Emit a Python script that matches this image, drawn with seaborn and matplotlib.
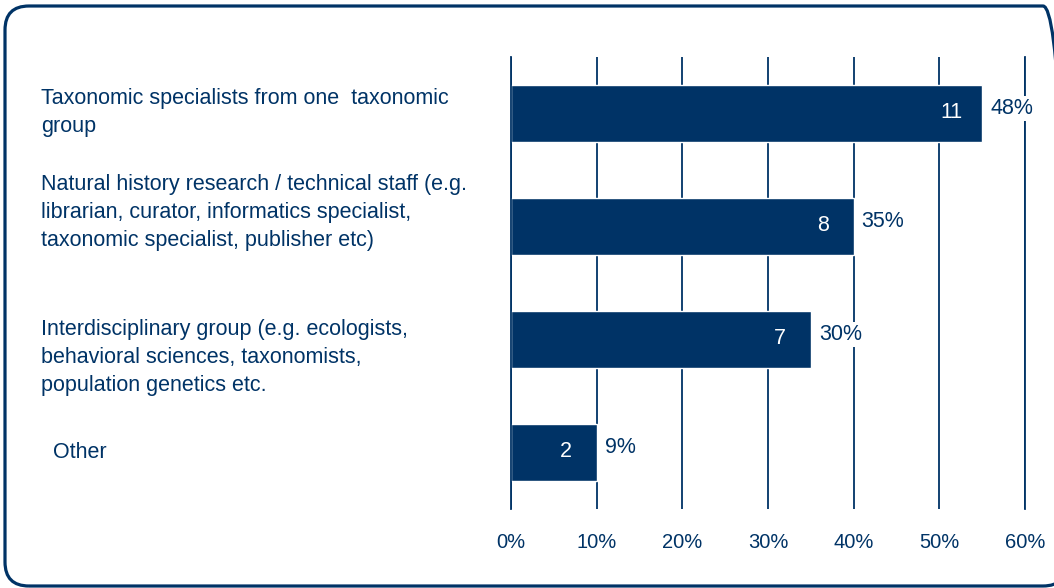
import matplotlib
matplotlib.use("Agg")
import matplotlib.pyplot as plt
import matplotlib.transforms as mtransforms
from matplotlib.patches import FancyBboxPatch
from matplotlib.ticker import FixedLocator, FuncFormatter
import seaborn as sns
import pandas as pd

# Survey responses: who should be involved
categories = [
    "Taxonomic specialists from one  taxonomic\ngroup",
    "Natural history research / technical staff (e.g.\nlibrarian, curator, informatics specialist,\ntaxonomic specialist, publisher etc)",
    "Interdisciplinary group (e.g. ecologists,\nbehavioral sciences, taxonomists,\npopulation genetics etc.",
    "Other",
]
counts = [11, 8, 7, 2]
percent_labels = [48, 35, 30, 9]
tick_percents = [0, 10, 20, 30, 40, 50, 60]
pct_per_response = 5  # axis scale: one response spans 5% of the axis

NAVY = "#003366"
W, H, DPI = 1054, 588, 100

sns.set_theme(style="white")
plt.rcParams["font.family"] = ["Liberation Sans", "DejaVu Sans"]
plt.rcParams["text.color"] = NAVY

fig = plt.figure(figsize=(W / DPI, H / DPI), dpi=DPI)
ax = fig.add_axes([511 / W, 1 - 509 / H, (1025 - 511) / W, (509 - 57) / H])

df = pd.DataFrame({"category": categories, "count": counts})
sns.barplot(data=df, x="count", y="category", orient="h", color=NAVY,
            saturation=1, width=0.5, ax=ax, zorder=2)

ax.set_xlim(0, tick_percents[-1] / pct_per_response)
ax.set_ylim(3.5, -0.5)
ax.xaxis.set_major_locator(FixedLocator([p / pct_per_response for p in tick_percents]))
ax.xaxis.set_major_formatter(FuncFormatter(lambda v, _: f"{v * pct_per_response:.0f}%"))
ax.set_xlabel("")
ax.set_ylabel("")

ax.grid(axis="x", color=NAVY, linewidth=1.3)
ax.grid(axis="y", visible=False)
ax.set_axisbelow(True)
for side in ("top", "bottom"):
    ax.spines[side].set_visible(False)
for side in ("left", "right"):
    ax.spines[side].set_visible(True)
    ax.spines[side].set_color(NAVY)
    ax.spines[side].set_linewidth(1.3)

ax.tick_params(axis="x", length=0, pad=17, labelsize=14.5, labelcolor=NAVY)
ax.tick_params(axis="y", length=0, pad=470 * 72 / DPI, labelsize=15.5, labelcolor=NAVY)

# category labels: left aligned in the left margin, nudged per row
label_shift = [(0, 7), (0, 20), (0, -12), (12, 2)]
for lbl, (dx, dy) in zip(ax.get_yticklabels(), label_shift):
    lbl.set_horizontalalignment("left")
    lbl.set_linespacing(1.45)
    lbl.set_transform(lbl.get_transform() +
                      mtransforms.ScaledTranslation(dx / DPI, dy / DPI, fig.dpi_scale_trans))

# counts inside the bars, percentages beside them
for i, (c, p) in enumerate(zip(counts, percent_labels)):
    ax.annotate(str(c), xy=(c, i), xytext=(-31, 1), textcoords="offset pixels",
                ha="center", va="center", color="white", fontsize=15.5, zorder=4)
    ax.annotate(f"{p}%", xy=(c, i), xytext=(8, 5), textcoords="offset pixels",
                ha="left", va="center", color=NAVY, fontsize=15.5, zorder=4,
                bbox=dict(boxstyle="square,pad=0.1", facecolor="white", edgecolor="none"))

# rounded frame around the whole chart (pixel units), running off the right edge
frame = FancyBboxPatch((5, 2), 1062, H - 8,
                       boxstyle="round,pad=0,rounding_size=24",
                       transform=mtransforms.IdentityTransform(), facecolor="none",
                       edgecolor=NAVY, linewidth=2.3)
fig.patches.append(frame)

fig.savefig("out.png", dpi=DPI, facecolor="white")
